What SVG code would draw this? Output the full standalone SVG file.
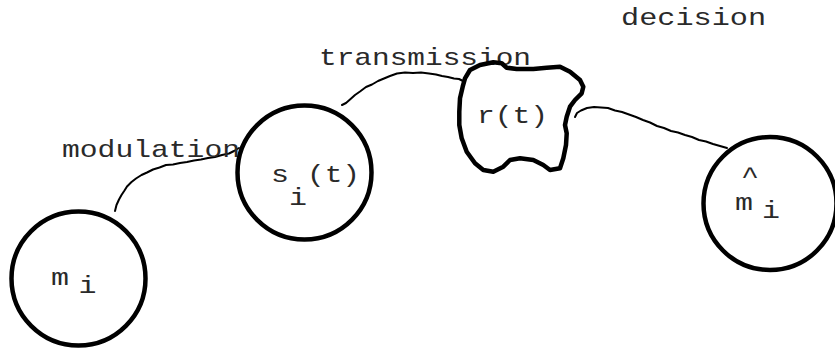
<svg xmlns="http://www.w3.org/2000/svg" width="835" height="351" viewBox="0 0 835 351">
<style>
  .node { fill: none; stroke: #000; stroke-width: 4.5; stroke-linejoin: round; }
  .conn { fill: none; stroke: #000; stroke-width: 2; stroke-linejoin: round; stroke-linecap: round; }
  .t { font-family: "Liberation Mono", "Courier New", monospace; font-size: 24px; fill: #2a2a2a; }
</style>
<rect width="835" height="351" fill="#fff"/>
<g id="connectors">
  <polyline class="conn" points="115,211 116.5,205 119,199.5 121.5,195 124.5,190.5 127,186.5 131.5,182 136,178.5 141.5,175 147,172.5 153,169.5 159.5,167.5 166,165 173,164.5 180,163 187,162 194,160.5 201,159.5 208,158 215,157 222,155 229,153.5 234,151 239,148"/>
  <polyline class="conn" points="342,105 346,103 350,99.5 355,95 360,91.5 366,87 372,84.5 378,81 384,78.5 390,76 397,73.5 405,72.5 413,73 421,72.5 429,73.5 436,74.5 442,76 448,77 454,78.5 459,79 463,81"/>
  <polyline class="conn" points="575,117 577,113 581,110.5 587,108 594,107 601,107.5 608,108 615,110.5 622,112 629,114.5 636,117 643,120 650,122.5 657,126 664,128 671,131 678,132.5 685,135 692,137 699,140 706,141.5 713,144 720,146 727,148"/>
  <text class="t" x="62" y="157" textLength="178" lengthAdjust="spacingAndGlyphs">modulation</text>
  <text class="t" x="319" y="65" textLength="212" lengthAdjust="spacingAndGlyphs">transmission</text>
  <text class="t" x="621" y="25" textLength="145" lengthAdjust="spacingAndGlyphs">decision</text>
</g>
<g id="node-m">
  <circle class="node" cx="78.5" cy="278.5" r="67"/>
  <text class="t" x="51" y="285" textLength="18" lengthAdjust="spacingAndGlyphs">m</text>
  <text class="t" x="78.5" y="293" textLength="18" lengthAdjust="spacingAndGlyphs">i</text>
</g>
<g id="node-s">
  <circle class="node" cx="304.5" cy="172.5" r="67"/>
  <text class="t" x="271" y="182" textLength="18" lengthAdjust="spacingAndGlyphs">s</text>
  <text class="t" x="307" y="182" textLength="53" lengthAdjust="spacingAndGlyphs">(t)</text>
  <text class="t" x="289" y="205" textLength="18" lengthAdjust="spacingAndGlyphs">i</text>
</g>
<g id="node-r">
  <polygon class="node" stroke-width="5" points="465,78.3 470,70 480,65 493.3,62.3 501.7,63.3 506.7,67.7 516.7,69 533.3,69 546.7,67.7 560,66.7 570,71.7 580,80 583.3,86.7 581.7,93.3 575,100 570,106.7 566.7,116.7 565,125 566.7,133.3 566,145 563.3,158.3 560,168.3 550,170 543.3,165 533.3,160 520,158.3 510,160 503.3,166.7 493.3,171.7 483.3,170 475,163.3 466.7,151.7 461.7,138.3 459.3,125 459.3,111.7 460,98.3 462.7,86.7"/>
  <text class="t" x="477" y="123" textLength="71" lengthAdjust="spacingAndGlyphs">r(t)</text>
</g>
<g id="node-mhat">
  <circle class="node" cx="770" cy="203.5" r="66.5"/>
  <text class="t" x="741" y="183" textLength="18" lengthAdjust="spacingAndGlyphs">^</text>
  <text class="t" x="735" y="210" textLength="18" lengthAdjust="spacingAndGlyphs">m</text>
  <text class="t" x="762" y="218" textLength="18" lengthAdjust="spacingAndGlyphs">i</text>
</g>
</svg>
